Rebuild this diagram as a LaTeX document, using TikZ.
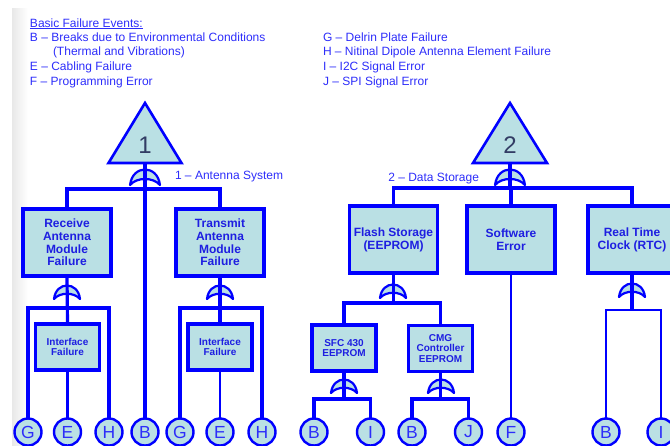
\documentclass[tikz,border=0pt]{standalone}
\usepackage{fontspec}
\setmainfont{Liberation Sans}
\definecolor{lineblue}{RGB}{0,0,255}
\definecolor{textblue}{RGB}{45,45,250}
\definecolor{boxtext}{RGB}{30,30,225}
\definecolor{boxfill}{RGB}{186,224,228}
\definecolor{digitcol}{RGB}{50,60,100}

\tikzset{
  % OR gate drawn as a crescent, origin at the mid point between its tips
  orgate/.pic={
    \draw[draw=lineblue, fill=boxfill, line width=2.2pt, line join=round]
      (-13,0) .. controls (-12,-9) and (-6,-13.5) .. (0,-13.5)
      .. controls (6,-13.5) and (12,-9) .. (13,0)
      .. controls (7,-7) and (-7,-7) .. (-13,0) -- cycle;
  }
}

\begin{document}
\begin{tikzpicture}[x=1pt, y=-1pt,
  every node/.style={inner sep=0pt, outer sep=0pt},
  legend/.style={text=textblue, font=\fontsize{12}{14}\selectfont},
  tag/.style={text=textblue, font=\fontsize{12}{14}\selectfont},
  event/.style={draw=lineblue, fill=boxfill, line width=3.2pt, align=center,
    text=boxtext, minimum width=88, minimum height=67,
    font=\bfseries\fontsize{12}{12.8}\selectfont},
  subevent/.style={draw=lineblue, fill=boxfill, line width=3.2pt, align=center,
    text=boxtext, minimum width=64, minimum height=46,
    font=\bfseries\fontsize{10}{10.5}\selectfont},
  basic/.style={circle, draw=lineblue, fill=boxfill, line width=2.4pt,
    minimum size=27, text=textblue, font=\fontsize{17.5}{17.5}\selectfont},
  transfer/.style={draw=lineblue, fill=boxfill, line width=2.6pt, line join=miter},
  digit/.style={text=digitcol, font=\fontsize{24}{24}\selectfont},
  wire/.style={draw=lineblue, line width=3.2pt},
  thinwire/.style={draw=lineblue, line width=2.6pt}
]
\useasboundingbox (0,0) rectangle (670,445);
\clip (0,0) rectangle (670,445);

% page edge shadow
\shade[left color=black!9, right color=white] (12,8) rectangle (28,445);

% legend
\node[legend, anchor=base west] (lhead) at (30,27) {\underline{Basic Failure Events:}};
\node[legend, anchor=base west] (lB) at (30,41) {B – Breaks due to Environmental Conditions};
\node[legend, anchor=base west] (lB2) at (53,55.5) {(Thermal and Vibrations)};
\node[legend, anchor=base west] (lE) at (30,70.5) {E – Cabling Failure};
\node[legend, anchor=base west] (lF) at (30,85) {F – Programming Error};
\node[legend, anchor=base west] (lG) at (323,41) {G – Delrin Plate Failure};
\node[legend, anchor=base west] (lH) at (323,55.5) {H – Nitinal Dipole Antenna Element Failure};
\node[legend, anchor=base west] (lI) at (323,70.5) {I – I2C Signal Error};
\node[legend, anchor=base west] (lJ) at (323,85) {J – SPI Signal Error};

% ---------- 1: antenna system ----------
\coordinate (t1) at (145,163);
\draw[transfer] (t1) ++(-36.5,0) -- ++(36.5,-60) -- ++(36.5,60) -- cycle;
\node[digit] (d1) at (145,145) {1};
\node[tag, anchor=base west] (tag1) at (175,179) {1 – Antenna System};

\node[event] (recv) at (67,242.5) {Receive\\Antenna\\Module\\Failure};
\node[event] (trans) at (220,242.5) {Transmit\\Antenna\\Module\\Failure};
\node[subevent] (ifR) at (67.5,347) {Interface\\Failure};
\node[subevent] (ifT) at (220,347) {Interface\\Failure};

\node[basic] (G1) at (28,432) {G};
\node[basic] (E1) at (67.5,432) {E};
\node[basic] (H1) at (109,432) {H};
\node[basic] (B1) at (145,432) {B};
\node[basic] (G2) at (180,432) {G};
\node[basic] (E2) at (220,432) {E};
\node[basic] (H2) at (262,432) {H};

\pic[scale=1.15] at (145,185) {orgate};
\pic at (67,299) {orgate};
\pic at (220,299) {orgate};

\coordinate (j1) at (145,189);
\draw[wire] (recv.north) |- (j1) -| (trans.north);
\draw[wire] (t1) -- (B1.north);

\coordinate (jR) at (67,308);
\draw[wire] (G1.north) |- (jR) -| (H1.north);
\draw[wire] (recv.south) -- (ifR.north);
\draw[thinwire] (ifR.south) -- (E1.north);

\coordinate (jT) at (220,308);
\draw[wire] (G2.north) |- (jT) -| (H2.north);
\draw[wire] (trans.south) -- (ifT.north);
\draw[thinwire] (ifT.south) -- (E2.north);

% ---------- 2: data storage ----------
\coordinate (t2) at (510,163);
\draw[transfer] (t2) ++(-37,0) -- ++(37,-60) -- ++(37,60) -- cycle;
\node[digit] (d2) at (510,145) {2};
\node[tag, anchor=base east] (tag2) at (479,181) {2 – Data Storage};

\node[event] (flash) at (393.5,239.5) {Flash Storage\\(EEPROM)};
\node[event] (soft) at (511,239.5) {Software\\Error};
\node[event] (rtc) at (632,239.5) {Real Time\\Clock (RTC)};
\node[subevent] (sfc) at (344,348) {SFC 430\\EEPROM};
\node[subevent] (cmg) at (440.5,348.5) {CMG\\Controller\\EEPROM};

\node[basic] (B3) at (314,432) {B};
\node[basic] (I1) at (370.5,432) {I};
\node[basic] (B4) at (412,432) {B};
\node[basic] (J1) at (468.5,432) {J};
\node[basic] (F1) at (511,432) {F};
\node[basic] (B5) at (606,432) {B};
\node[basic] (I2) at (661,432) {I};

\pic[scale=1.15] at (510,185) {orgate};
\pic at (393,298) {orgate};
\pic at (344,393) {orgate};
\pic at (441,393) {orgate};
\pic at (632,297) {orgate};

\coordinate (j2) at (510,188);
\draw[wire] (flash.north) |- (j2) -| (rtc.north);
\draw[wire] (t2) -- (j2) -| (soft.north);
\draw[thinwire] (soft.south) -- (F1.north);

\coordinate (jF) at (393.5,303);
\draw[wire] (sfc.north) |- (jF) -| (cmg.north);
\draw[wire] (flash.south) -- (jF);

\coordinate (jS) at (344,399);
\draw[wire] (B3.north) |- (jS) -| (I1.north);
\draw[wire] (sfc.south) -- (jS);

\coordinate (jC) at (440.5,399);
\draw[wire] (B4.north) |- (jC) -| (J1.north);
\draw[wire] (cmg.south) -- (jC);

\coordinate (jRT) at (632,310);
\draw[thinwire] (B5.north) |- (jRT) -| (I2.north);
\draw[wire] (rtc.south) -- (jRT);
\end{tikzpicture}
\end{document}
